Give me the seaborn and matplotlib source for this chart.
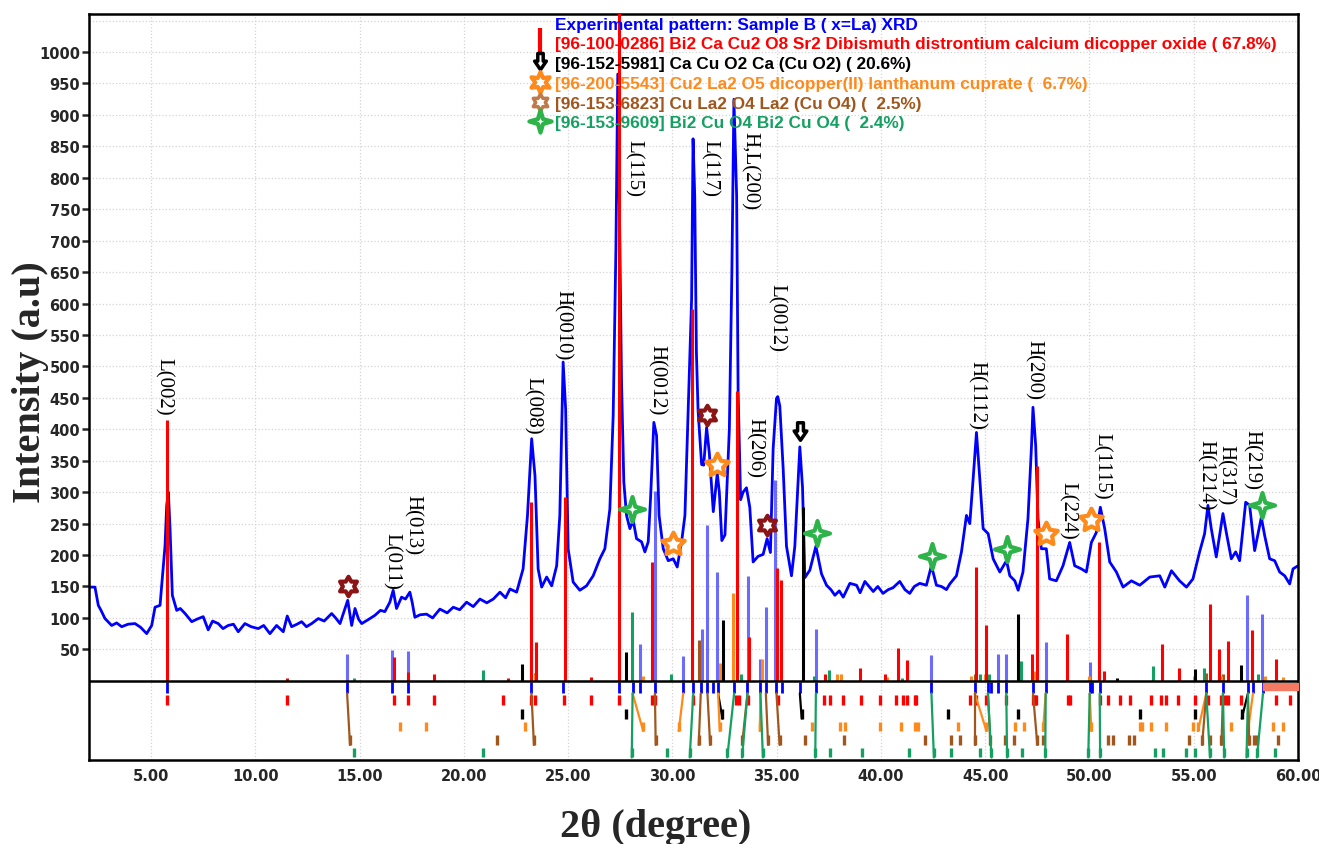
import numpy as np
import pandas as pd
import matplotlib
matplotlib.use('Agg')
import matplotlib.pyplot as plt
import seaborn as sns
from matplotlib.path import Path
from matplotlib.lines import Line2D

# experimental pattern (2theta, intensity)
two_theta = [2.0, 2.07, 2.31, 2.47, 2.6, 2.79, 3.11, 3.35, 3.59, 3.9, 4.23, 4.5, 4.79, 5.03, 5.19, 5.43,
             5.67, 5.75, 5.83, 5.91, 6.02, 6.23, 6.4, 6.63, 6.8, 6.95, 7.2, 7.5, 7.74, 7.95, 8.22, 8.45,
             8.7, 8.95, 9.18, 9.5, 9.8, 10.14, 10.4, 10.7, 11.02, 11.34, 11.53, 11.74, 12.0, 12.22, 12.45,
             12.7, 13.02, 13.3, 13.66, 13.85, 14.06, 14.25, 14.43, 14.62, 14.78, 14.95, 15.1, 15.4, 15.73,
             16.0, 16.21, 16.45, 16.61, 16.77, 17.01, 17.2, 17.41, 17.52, 17.65, 17.9, 18.21, 18.5, 18.85,
             19.2, 19.49, 19.8, 20.13, 20.45, 20.77, 21.1, 21.41, 21.73, 22.0, 22.21, 22.53, 22.84, 23.05,
             23.25, 23.41, 23.56, 23.73, 23.97, 24.21, 24.45, 24.6, 24.76, 24.88, 25.0, 25.24, 25.56, 25.88,
             26.2, 26.52, 26.76, 27.0, 27.16, 27.29, 27.38, 27.48, 27.56, 27.67, 27.8, 27.96, 28.12, 28.28,
             28.52, 28.68, 28.84, 28.95, 29.11, 29.24, 29.36, 29.56, 29.8, 30.04, 30.23, 30.44, 30.6, 30.75,
             30.92, 30.99, 31.07, 31.15, 31.23, 31.4, 31.5, 31.64, 31.77, 31.96, 32.15, 32.25, 32.37, 32.52,
             32.73, 32.85, 32.95, 33.08, 33.15, 33.27, 33.39, 33.55, 33.71, 33.87, 34.11, 34.35, 34.54, 34.7,
             34.83, 34.99, 35.05, 35.15, 35.31, 35.47, 35.71, 35.87, 36.11, 36.24, 36.35, 36.59, 36.88, 37.15,
             37.39, 37.6, 37.79, 38.0, 38.19, 38.51, 38.83, 39.0, 39.23, 39.63, 39.85, 40.1, 40.35, 40.58,
             40.9, 41.15, 41.38, 41.6, 41.86, 42.18, 42.42, 42.66, 42.9, 43.14, 43.3, 43.62, 43.86, 44.1,
             44.26, 44.42, 44.58, 44.74, 44.9, 45.14, 45.38, 45.7, 46.02, 46.18, 46.42, 46.58, 46.81, 47.05,
             47.22, 47.29, 47.42, 47.53, 47.69, 47.93, 48.09, 48.41, 48.73, 49.05, 49.29, 49.61, 49.85, 50.09,
             50.33, 50.52, 50.73, 50.97, 51.29, 51.61, 52.01, 52.41, 52.89, 53.37, 53.61, 53.93, 54.32, 54.65,
             54.96, 55.28, 55.52, 55.68, 55.84, 56.08, 56.24, 56.4, 56.56, 56.8, 57.01, 57.2, 57.49, 57.68,
             57.92, 58.24, 58.4, 58.64, 58.88, 59.12, 59.36, 59.6, 59.76, 60.0]
intensity = [148, 149, 149, 120, 112, 99, 88, 92, 86, 90, 91, 85, 75, 88, 117, 120,
             215, 279, 300, 242, 136, 112, 115, 107, 100, 94, 98, 102, 81, 95, 91, 83,
             88, 90, 78, 91, 86, 83, 88, 75, 88, 78, 103, 86, 90, 94, 86,
             91, 99, 95, 107, 100, 91, 110, 128, 88, 115, 98, 91, 97, 104,
             112, 110, 125, 144, 115, 133, 130, 141, 125, 101, 105, 106, 100, 114,
             108, 117, 113, 125, 118, 130, 124, 130, 141, 132, 146, 141, 178, 263,
             385, 326, 178, 149, 165, 151, 183, 263, 507, 432, 210, 157, 144, 151,
             167, 194, 210, 273, 422, 687, 965, 687, 475, 316, 263, 242, 255, 226,
             221, 205, 221, 289, 411, 390, 263, 210, 191, 194, 181, 221, 263, 422,
             607, 862, 771, 523, 430, 344, 343, 403, 362, 269, 330, 300, 223, 232,
             400, 647, 925, 771, 461, 288, 300, 307, 276, 189, 198, 201, 226, 204,
             369, 449, 452, 437, 338, 214, 167, 214, 372, 307, 164, 176, 214, 170,
             152, 145, 136, 143, 133, 155, 152, 140, 158, 142, 150, 139, 145, 148,
             158, 145, 139, 150, 155, 152, 183, 152, 150, 145, 154, 167, 205, 263,
             250, 321, 395, 321, 242, 234, 194, 173, 191, 167, 159, 144, 173, 258,
             374, 435, 374, 258, 210, 210, 162, 159, 183, 220, 183, 178, 173, 220,
             236, 276, 242, 189, 173, 149, 159, 152, 165, 167, 149, 175, 159, 149,
             162, 205, 234, 279, 242, 197, 231, 266, 236, 194, 205, 191, 284, 279,
             207, 260, 231, 194, 191, 173, 167, 154, 178, 183]

# reference sticks above the zero line (position, height)
red_x = [5.75, 11.5, 16.65, 17.3, 18.55, 22.1, 23.2, 23.45, 24.85, 26.1, 27.45, 29.0, 30.95, 33.08,
         33.66, 35.0, 35.2, 37.3, 38.98, 40.2, 40.82, 41.27, 44.58, 45.03, 47.26, 47.48, 48.92, 50.45,
         50.7, 53.48, 54.29, 55.76, 56.2, 56.64, 57.81, 58.93]
red_h = [415, 5, 38, 14, 10, 5, 285, 62, 292, 6, 1100, 189, 591, 461,
         69, 180, 161, 10, 21, 10, 52, 33, 181, 88, 43, 342, 75, 220,
         16, 59, 20, 122, 51, 64, 80, 35]
blue_x = [14.4, 16.56, 17.3, 28.44, 29.16, 30.5, 31.4, 31.67, 32.15, 33.63, 34.19, 34.48, 34.9,
          36.88, 42.42, 45.62, 46.02, 47.93, 50.01, 57.55, 58.29]
blue_h = [43, 49, 47, 59, 302, 40, 83, 248, 173, 167, 35, 118, 320,
          83, 41, 43, 43, 62, 30, 137, 107]
black_x = [22.77, 27.77, 32.43, 36.24, 46.58, 51.3, 55.04, 57.28]
black_h = [27, 46, 96, 276, 106, 4, 19, 25]
orange_x = [23.4, 28.6, 32.27, 32.91, 34.3, 37.9, 38.1, 40.3, 44.3, 45.0, 47.4, 50.0, 55.0, 56.3, 58.4, 59.3]
orange_h = [10, 8, 28, 140, 34, 10, 10, 6, 8, 10, 16, 8, 8, 8, 8, 6]
brown_x = [23.4, 31.28, 44.5, 45.0, 55.6, 56.4]
brown_h = [12, 65, 10, 8, 12, 10]
green_x = [14.75, 20.93, 28.07, 29.95, 33.3, 36.8, 37.5, 41.0, 44.75, 45.2, 46.73, 53.05, 55.5, 58.1]
green_h = [4, 17, 110, 10, 10, 8, 17, 5, 10, 10, 32, 24, 20, 10]

# peak positions listed under the zero line
obs_x = [5.75, 14.4, 16.56, 17.3, 23.24, 24.76, 27.43, 28.09, 28.44, 29.16, 30.52, 31.0, 31.36, 31.68,
         31.95, 32.19, 32.96, 33.6, 34.22, 34.48, 34.99, 35.25, 36.11, 36.88, 42.42, 44.5, 45.13, 45.29,
         45.61, 46.01, 47.29, 47.9, 50.01, 50.14, 50.49, 55.6, 56.4, 57.6, 57.84, 58.32]
red_ref = [5.76, 11.52, 16.64, 17.32, 18.56, 21.9, 23.2, 23.4, 24.81, 26.12, 27.43, 29.0, 29.16, 31.0,
           33.07, 33.2, 33.63, 35.07, 37.26, 37.58, 38.19, 39.02, 39.94, 40.74, 41.06, 41.25, 41.62, 41.7,
           44.26, 44.58, 45.02, 45.98, 47.29, 47.37, 47.45, 48.97, 49.05, 50.49, 50.89, 51.45, 51.93, 52.96,
           53.44, 53.68, 54.24, 55.04, 55.68, 56.32, 56.48, 56.64, 57.28, 58.96, 59.6]
black_ref = [22.77, 27.77, 32.4, 36.2, 43.22, 46.57, 52.4, 55.04, 57.3]
orange_ref = [16.96, 18.16, 22.94, 28.6, 30.3, 32.27, 34.19, 36.67, 38.03, 38.27, 39.94, 40.98, 41.62,
              41.78, 43.7, 45.06, 46.41, 46.86, 47.77, 50.09, 52.4, 52.5, 52.96, 53.68, 54.96, 55.2, 56.8,
              57.6, 58.8, 59.28]
brown_ref = [14.54, 21.6, 23.36, 29.2, 31.26, 31.81, 33.34, 34.59, 35.14, 36.35, 38.23, 42.09, 43.34,
             43.79, 44.5, 45.25, 45.93, 46.38, 47.5, 47.75, 50.89, 51.14, 51.89, 52.14, 54.78, 55.4, 55.78,
             56.33, 57.66, 57.91, 58.04, 59.04]
green_ref = [14.72, 20.9, 28.05, 29.75, 30.83, 32.63, 33.34, 34.34, 36.85, 37.55, 39.08, 41.36, 42.54,
             43.37, 44.75, 45.3, 46.05, 46.75, 47.88, 49.94, 50.51, 53.15, 53.52, 54.65, 55.08, 55.78, 56.46,
             57.53, 58.03, 58.91]

# matching lines: observed peak -> reference position
black_links = [(32.19, 32.4), (36.11, 36.2), (57.6, 57.3)]
orange_links = [(28.09, 28.6), (30.52, 30.3), (32.19, 32.27), (34.22, 34.19), (44.5, 45.06),
                (47.9, 47.77), (50.01, 50.09), (55.6, 55.2), (57.84, 57.6)]
brown_links = [(14.4, 14.54), (23.24, 23.36), (29.16, 29.2), (31.36, 31.26), (31.68, 31.81),
               (33.6, 33.34), (34.48, 34.59), (34.99, 35.14), (44.5, 44.5), (45.13, 45.25),
               (47.29, 47.5), (55.6, 55.4), (56.4, 56.33), (57.6, 57.66)]
green_links = [(28.09, 28.05), (31.0, 30.83), (32.96, 32.63), (33.6, 33.34), (34.22, 34.34),
               (36.88, 36.85), (42.42, 42.54), (45.13, 45.3), (46.01, 46.05), (47.9, 47.88),
               (50.01, 49.94), (50.49, 50.51), (55.6, 55.78), (56.4, 56.46), (57.6, 57.53), (58.32, 58.03)]

# phase markers on the pattern
lacuo4_x, lacuo4_y = [14.45, 31.65, 34.52], [150, 422, 247]
cu2la2o5_x, cu2la2o5_y = [30.05, 32.15, 47.9, 50.08], [218, 343, 233, 255]
bi2cuo4_x, bi2cuo4_y = [28.07, 36.92, 42.45, 46.03, 58.26], [273, 235, 198, 210, 279]
cacuo2_x, cacuo2_y = [36.1], [396]

peak_labels = ['L(002)', 'L(011)', 'H(013)', 'L(008)', 'H(0010)', 'L(115)', 'H(0012)', 'L(117)',
               'H,L(200)', 'H(206)', 'L(0012)', 'H(1112)', 'H(200)', 'L(224)', 'L(1115)',
               'H(1214)', 'H(317)', 'H(219)']
label_x = [5.58, 16.55, 17.56, 23.27, 24.71, 28.15, 29.25, 31.8, 33.7, 33.96, 35.0, 44.6, 47.3,
           48.96, 50.59, 55.57, 56.53, 57.78]
label_y = [423, 146, 202, 393, 512, 771, 424, 771, 750, 324, 525, 401, 448, 226, 289, 273, 281, 305]

legend_labels = ['Experimental pattern: Sample B ( x=La) XRD',
                 '[96-100-0286] Bi2 Ca Cu2 O8 Sr2 Dibismuth distrontium calcium dicopper oxide ( 67.8%)',
                 '[96-152-5981] Ca Cu O2 Ca (Cu O2) ( 20.6%)',
                 '[96-200-5543] Cu2 La2 O5 dicopper(II) lanthanum cuprate (  6.7%)',
                 '[96-153-6823] Cu La2 O4 La2 (Cu O4) (  2.5%)',
                 '[96-153-9609] Bi2 Cu O4 Bi2 Cu O4 (  2.4%)']

C_BLUE, C_RED, C_BLACK = '#0000ff', '#ff0000', '#000000'
C_ORANGE, C_BROWN, C_GREEN = '#ff8a1c', '#a0561c', '#13a060'
C_MAROON, C_TAN, C_MGREEN = '#8b1515', '#c07a4a', '#2db34a'


def star(n, inner):
    k = np.arange(2 * n)
    ang = np.pi / 2 + k * np.pi / n
    r = np.where(k % 2 == 0, 1.0, inner)
    v = np.column_stack([r * np.cos(ang), r * np.sin(ang)])
    return Path(np.vstack([v, v[:1]]), closed=True)


hexagram = star(6, 0.577)
five_star = star(5, 0.5)
four_star = star(4, 0.32)
down_arrow = Path([(-0.3, 1), (0.3, 1), (0.3, 0.15), (0.65, 0.15), (0, -0.8), (-0.65, 0.15),
                   (-0.3, 0.15), (-0.3, 1)], closed=True)

sns.set_theme(style='white')
plt.rcParams['font.family'] = ['DejaVu Sans']

fig = plt.figure(figsize=(13.19, 8.45), dpi=100)
ax = fig.add_axes([0.0671, 0.0994, 0.9170, 0.8832])

df = pd.DataFrame({'two_theta': two_theta, 'intensity': intensity})
sns.lineplot(data=df, x='two_theta', y='intensity', ax=ax, color=C_BLUE, lw=2,
             estimator=None, sort=False, legend=False, zorder=2)

# sticks above zero
ax.vlines(blue_x, 0, blue_h, color='#3a3aff', lw=2.2, alpha=0.75, zorder=3)
ax.vlines(green_x, 0, green_h, color=C_GREEN, lw=2.2, zorder=3)
ax.vlines(brown_x, 0, brown_h, color=C_BROWN, lw=2.2, zorder=3)
ax.vlines(orange_x, 0, orange_h, color=C_ORANGE, lw=2.2, zorder=3)
ax.vlines(black_x, 0, black_h, color=C_BLACK, lw=2.2, zorder=3)
ax.vlines(red_x, 0, red_h, color=C_RED, lw=2.2, zorder=3)

# rows below zero
ax.axhline(0, color='black', lw=1.8, zorder=4)
ax.vlines(obs_x, -2, -20, color=C_BLUE, lw=2, zorder=3)
rows = [(red_ref, C_RED, -22, -38), (black_ref, C_BLACK, -45, -60), (orange_ref, C_ORANGE, -65, -80),
        (brown_ref, C_BROWN, -87, -102), (green_ref, C_GREEN, -107, -122)]
for xs, c, top, bot in rows:
    ax.vlines(xs, top, bot, color=c, lw=2.4, zorder=3)
for links, c, bot in [(black_links, C_BLACK, -60), (orange_links, C_ORANGE, -80),
                      (brown_links, C_BROWN, -102), (green_links, C_GREEN, -122)]:
    for xo, xr in links:
        ax.plot([xo, xr], [-20, bot], color=c, lw=1.6, zorder=3)
ax.broken_barh([(58.3, 1.7)], (-15, 12), color='#f47a64', zorder=3)

# phase markers
ax.plot(lacuo4_x, lacuo4_y, ls='none', marker=hexagram, ms=14, mfc='white', mec=C_MAROON, mew=3, zorder=5)
ax.plot(cu2la2o5_x, cu2la2o5_y, ls='none', marker=five_star, ms=17, mfc='white', mec=C_ORANGE, mew=3, zorder=5)
ax.plot(bi2cuo4_x, bi2cuo4_y, ls='none', marker=four_star, ms=18, mfc='white', mec=C_MGREEN, mew=3, zorder=5)
ax.plot(cacuo2_x, cacuo2_y, ls='none', marker=down_arrow, ms=14, mfc='white', mec=C_BLACK, mew=2.5, zorder=5)

for lab, lx, ly in zip(peak_labels, label_x, label_y):
    ax.text(lx, ly, lab, rotation=-90, ha='center', va='bottom', fontsize=15,
            family='Liberation Serif', color='black', zorder=6)

handles = [Line2D([], [], ls='none'),
           Line2D([], [], ls='none', marker='|', ms=20, mew=3, color=C_RED),
           Line2D([], [], ls='none', marker=down_arrow, ms=13, mfc='white', mec=C_BLACK, mew=2.5),
           Line2D([], [], ls='none', marker=star(6, 0.5), ms=15, mfc='white', mec=C_ORANGE, mew=3),
           Line2D([], [], ls='none', marker=hexagram, ms=12, mfc='white', mec=C_TAN, mew=2.5),
           Line2D([], [], ls='none', marker=four_star, ms=16, mfc='white', mec=C_MGREEN, mew=3)]
leg = ax.legend(handles, legend_labels, loc='upper left', bbox_to_anchor=(0.366, 0.996), frameon=False,
                prop={'family': 'Liberation Sans', 'weight': 'bold', 'size': 12.4},
                handlelength=1.0, handletextpad=0.4, labelspacing=0.27, borderpad=0, borderaxespad=0)
for t, c in zip(leg.get_texts(), [C_BLUE, C_RED, C_BLACK, C_ORANGE, C_BROWN, C_GREEN]):
    t.set_color(c)

ax.set_xlim(2, 60)
ax.set_ylim(-126, 1061)
ax.set_xticks(np.arange(5, 61, 5))
ax.set_xticklabels([f'{v:.2f}' for v in np.arange(5, 61, 5)])
ax.set_yticks(np.arange(50, 1001, 50))
ax.set_yticks([1050], minor=True)
ax.tick_params(axis='x', direction='inout', length=7, width=1.8, labelsize=10.5, pad=2)
ax.tick_params(axis='y', direction='out', length=5, width=1.8, labelsize=10.5, pad=1, left=True)
ax.tick_params(axis='y', which='minor', length=0)
for lab in ax.get_xticklabels() + ax.get_yticklabels():
    lab.set_fontweight('bold')
ax.grid(True, which='both', ls=':', color='#d4d4d4', lw=0.9)
ax.set_axisbelow(True)
for s in ax.spines.values():
    s.set_color('black')
    s.set_linewidth(1.8)
ax.set_xlabel('')
ax.set_ylabel('')

fig.text(0.023, 0.548, 'Intensity (a.u)', rotation=90, ha='center', va='center',
         family='Liberation Serif', weight='bold', size=29)
fig.text(0.497, 0.021, '2θ (degree)', ha='center', va='center',
         family='Liberation Serif', weight='bold', size=29)

fig.savefig('out.png', dpi=100)
